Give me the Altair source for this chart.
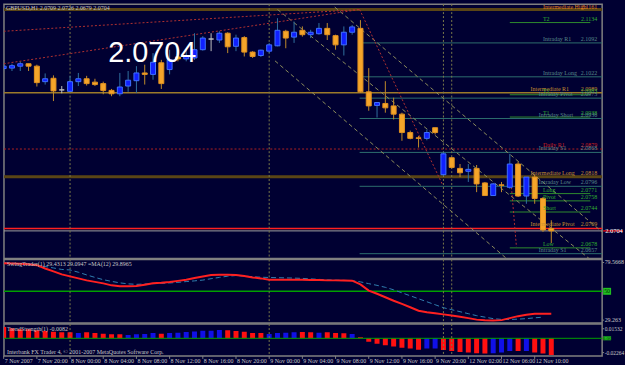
import altair as alt
import pandas as pd

BG = "#000032"
GRID = "#808080"
TXT = "#c8c8c8"
FONT = "Liberation Sans Narrow"

# ---------------- price candles (GBPUSD H1) ----------------
opens = [2.1039, 2.1040, 2.1044, 2.1049, 2.1044, 2.1012, 2.1019, 2.0995, 2.0992, 2.1012,
         2.1018, 2.1011, 2.1008, 2.0994, 2.0987, 2.1003, 2.1014, 2.1030, 2.1027, 2.1051,
         2.1037, 2.1063, 2.1059, 2.1061, 2.1078, 2.1100, 2.1098, 2.1112, 2.1085, 2.1103,
         2.1073, 2.1066, 2.1075, 2.1086, 2.1116, 2.1104, 2.1118, 2.1109, 2.1111, 2.1122,
         2.1107, 2.1088, 2.1114, 2.1122, 2.0991, 2.0963, 2.0967, 2.0962, 2.0945, 2.0907,
         2.0896, 2.0895, 2.0917, 2.0820, 2.0855, 2.0833, 2.0827, 2.0833, 2.0803, 2.0777,
         2.0799, 2.0794, 2.0842, 2.0776, 2.0815, 2.0771, 2.0709]
highs = [2.1047, 2.1049, 2.1053, 2.1049, 2.1047, 2.1029, 2.1025, 2.1003, 2.1024, 2.1030,
         2.1024, 2.1018, 2.1012, 2.0997, 2.1030, 2.1034, 2.1044, 2.1047, 2.1071, 2.1057,
         2.1078, 2.1071, 2.1078, 2.1112, 2.1106, 2.1112, 2.1116, 2.1114, 2.1109, 2.1106,
         2.1075, 2.1078, 2.1092, 2.1143, 2.1119, 2.1136, 2.1126, 2.1119, 2.1133, 2.1133,
         2.1109, 2.1126, 2.1129, 2.1139, 2.1040, 2.0969, 2.1013, 2.0979, 2.0948, 2.0911,
         2.0900, 2.0913, 2.0917, 2.0868, 2.0856, 2.0842, 2.0842, 2.0840, 2.0805, 2.0803,
         2.0805, 2.0863, 2.0847, 2.0815, 2.0820, 2.0774, 2.0726]
lows = [2.1034, 2.1034, 2.1034, 2.1034, 2.1002, 2.1006, 2.0972, 2.0988, 2.0991, 2.1003,
        2.1004, 2.1003, 2.0986, 2.0982, 2.0982, 2.0991, 2.0989, 2.1006, 2.1016, 2.0997,
        2.1027, 2.1054, 2.1054, 2.1057, 2.1076, 2.1075, 2.1092, 2.1071, 2.1075, 2.1064,
        2.1061, 2.1063, 2.1071, 2.1085, 2.1081, 2.1092, 2.1105, 2.1102, 2.1109, 2.1098,
        2.1078, 2.1066, 2.1109, 2.0989, 2.0952, 2.0938, 2.0948, 2.0934, 2.0890, 2.0893,
        2.0876, 2.0891, 2.0903, 2.0818, 2.0833, 2.0815, 2.0805, 2.0784, 2.0776, 2.0776,
        2.0784, 2.0791, 2.0774, 2.0760, 2.0760, 2.0702, 2.0679]
closes = [2.1044, 2.1045, 2.1049, 2.1044, 2.1010, 2.1018, 2.0993, 2.0995, 2.1012, 2.1018,
          2.1008, 2.1006, 2.0994, 2.0987, 2.1001, 2.1015, 2.1030, 2.1027, 2.1052, 2.1008,
          2.1057, 2.1059, 2.1064, 2.1078, 2.1102, 2.1100, 2.1112, 2.1084, 2.1102, 2.1073,
          2.1064, 2.1077, 2.1088, 2.1118, 2.1102, 2.1114, 2.1109, 2.1114, 2.1122, 2.1109,
          2.1088, 2.1114, 2.1125, 2.0991, 2.0962, 2.0969, 2.0958, 2.0945, 2.0907, 2.0895,
          2.0895, 2.0907, 2.0907, 2.0863, 2.0835, 2.0824, 2.0831, 2.0801, 2.0777, 2.0801,
          2.0798, 2.0842, 2.0776, 2.0815, 2.0771, 2.0706, 2.0704]

# time axis
time_label_bars = [0, 4, 8, 12, 16, 20, 24, 28, 32, 36, 40, 44, 48, 52, 56, 60, 64]
time_labels = ["7 Nov 2007", "7 Nov 20:00", "8 Nov 00:00", "8 Nov 04:00", "8 Nov 08:00",
               "8 Nov 12:00", "8 Nov 16:00", "8 Nov 20:00", "9 Nov 00:00", "9 Nov 04:00",
               "9 Nov 08:00", "9 Nov 12:00", "9 Nov 16:00", "9 Nov 20:00", "12 Nov 02:00",
               "12 Nov 06:00", "12 Nov 10:00"]
separator_bars = [8, 32, 53, 54]

price_ticks = [2.1145, 2.1110, 2.1075, 2.1040, 2.1005, 2.0970, 2.0935, 2.0900,
               2.0865, 2.0830, 2.0795, 2.0760, 2.0725, 2.0690, 2.0655]

# horizontal levels
lvl_names = ["Intermediate High", "T2", "Intraday  R1", "Intraday Long", "Intermediate R1",
             "T1", "Intraday Pivot", "T1", "Intraday Short", "Daily  R1", "Intraday  S1",
             "Intermediate Long", "Intraday Low", "Long", "Pivot", "Short",
             "Intermediate Pivot", "", "Low", "Intraday  S1"]
lvl_texts = ["2.1161", "2.1134", "2.1092", "2.1022", "2.0989", "2.0983", "2.0973", "2.0938",
             "2.0936", "2.0879", "2.0868", "2.0818", "2.0796", "2.0771", "2.0758", "2.0744",
             "2.0709", "", "2.0678", "2.0657"]
lvl_prices = [2.1161, 2.1134, 2.1092, 2.1022, 2.0989, 2.0985, 2.0978, 2.0939, 2.0936, 2.0873,
              2.0866, 2.0816, 2.0796, 2.0781, 2.0766, 2.0743, 2.0709, 2.0704, 2.0669, 2.0657]
lvl_start = [0.04, 61, 42.9, 42.9, 0.04, 61, 42.9, 61, 42.9, 0.04, 42.9, 0.04, 42.9, 61,
             61, 61, 0.04, 0.04, 61, 42.9]
lvl_end = [72.2, 70.7, 72.2, 72.2, 72.2, 70.7, 72.2, 70.7, 72.2, 72.2, 72.2, 72.2, 72.2,
           70.7, 70.7, 70.7, 72.2, 72.2, 70.7, 72.2]
lvl_colors = ["#5a4515", "#2e8b2e", "#2c6e6e", "#2c6e6e", "#9c7a2a", "#2e8b2e", "#2c6e6e",
              "#2e8b2e", "#2c6e6e", "#b02020", "#2c6e6e", "#5a4515", "#2c6e6e", "#2e8b2e",
              "#2e8b2e", "#2e8b2e", "#ff2020", "#a0a0a0", "#2e8b2e", "#2c6e6e"]
lvl_label_colors = ["#e08020", "#30b030", "#5a8a8a", "#5a8a8a", "#c89030", "#30b030",
                    "#5a8a8a", "#30b030", "#5a8a8a", "#d02020", "#5a8a8a", "#c89030",
                    "#5a8a8a", "#30b030", "#30b030", "#30b030", "#c89030", "#a0a0a0",
                    "#30b030", "#5a8a8a"]
lvl_style = ["thick", "thin", "thin", "thin", "mid", "thin", "thin", "thin", "thin", "dot",
             "thin", "thick", "thin", "thin", "thin", "thin", "mid", "thin", "thin", "thin"]
lvl_name_at = [65.0, 65.0, 65.0, 65.0, 63.5, 65.0, 64.5, 65.0, 64.5, 65.0, 64.5, 63.5,
               64.5, 65.0, 65.0, 65.0, 63.5, 65.0, 65.0, 64.5]

# trend lines (bar index, price)
khaki_x1 = [39.9, 32.7, 33.0]
khaki_p1 = [2.1166, 2.1055, 2.1161]
khaki_x2 = [72.4, 60.75, 70.7]
khaki_p2 = [2.0698, 2.0645, 2.0645]
red_x1 = [0.0, 0.0, 42.9, 61.2]
red_p1 = [2.1116, 2.1049, 2.1161, 2.0794]
red_x2 = [42.9, 42.9, 52.9, 61.8]
red_p2 = [2.1161, 2.1161, 2.0799, 2.0671]

# ---------------- indicator panel ----------------
swing = [78.3, 78.0, 77.7, 77.3, 76.3, 73.0, 70.0, 67.0, 65.0, 63.0,
         61.0, 59.5, 58.0, 56.0, 55.0, 55.0, 55.3, 56.7, 58.0, 58.5,
         59.3, 60.5, 61.7, 63.3, 65.0, 66.3, 66.7, 66.7, 66.5, 65.3,
         64.0, 63.0, 61.7, 61.7, 61.7, 61.7, 61.7, 61.5, 61.3, 61.0,
         61.0, 60.8, 60.7, 57.0, 50.7, 47.5, 44.0, 40.5, 37.3, 34.0,
         30.5, 29.0, 28.0, 26.8, 25.7, 24.5, 23.0, 21.5, 20.8, 20.7,
         21.0, 23.0, 25.0, 26.5, 27.3, 27.3, 27.3]
swing_ma = [79.0, 78.5, 78.0, 77.5, 76.5, 75.0, 73.5, 72.0, 71.5, 69.2,
            66.5, 64.0, 61.7, 60.0, 58.5, 57.5, 57.0, 57.3, 57.7, 58.0,
            58.4, 59.0, 59.8, 60.5, 61.3, 62.7, 64.0, 65.2, 65.9, 65.3,
            64.7, 64.2, 63.9, 63.7, 63.5, 63.3, 63.0, 62.5, 62.0, 61.5,
            61.2, 61.0, 60.7, 59.5, 57.7, 56.0, 54.0, 51.5, 48.5, 45.5,
            42.5, 39.5, 36.5, 33.5, 31.5, 29.5, 27.5, 25.5, 24.0, 22.5,
            21.7, 21.7, 22.0, 22.5, 23.3, 24.0]
ind_axis_vals = [79.0, 21.0]
ind_axis_text = ["79.5668", "29.263"]
ind_level = 50

# ---------------- histogram panel ----------------
trend = [0.0153, 0.0135, 0.0122, 0.0122, 0.0108, 0.0099, 0.0089, 0.0081, 0.0081, 0.0072,
         0.0081, 0.0072, 0.0062, 0.0054, 0.0054, 0.0045, 0.0054, 0.0058, 0.0072, 0.0062,
         0.0072, 0.0076, 0.0085, 0.0094, 0.0103, 0.0103, 0.0112, 0.0108, 0.0099, 0.0089,
         0.0072, 0.0072, 0.0058, 0.0072, 0.0076, 0.0081, 0.0085, 0.0083, 0.0076, 0.0083,
         0.0072, 0.0067, 0.0058, 0.0013, -0.0046, -0.0073, -0.0095, -0.0113, -0.0127, -0.0140,
         -0.0154, -0.0140, -0.0140, -0.0158, -0.0171, -0.0185, -0.0194, -0.0203, -0.0208, -0.0203,
         -0.0194, -0.0171, -0.0171, -0.0171, -0.0194, -0.0208, -0.0226]
trend_side = list("RRRRRRRRRBRRRRRBBBBRBBBBBBBRRRRRBBBBRRBRRRBRRRRRRRRBBRRRRRRBBBRBRRR")
hist_axis_vals = [0.0130, -0.0194]
hist_axis_text = ["0.01532", "-0.02264"]

# ---------------- build ----------------
W = 602
XDOM = [0.036, 72.13]
xs = alt.Scale(domain=XDOM, nice=False, zero=False)
HALF = 0.3  # half candle width in bar units
n = len(opens)
idx = list(range(n))

cd = pd.DataFrame({"i": idx, "o": opens, "h": highs, "l": lows, "c": closes})


def kind(o, c):
    if c > o:
        return "up"
    if c < o:
        return "down"
    return "doji"


cd["kind"] = [kind(o, c) for o, c in zip(opens, closes)]
fill_map = {"up": "#1020ff", "down": "#f5a52a", "doji": "#c0c0c0"}
stroke_map = {"up": "#4070ff", "down": "#e09020", "doji": "#c0c0c0"}
wick_map = {"up": "#2f6f9f", "down": "#c08a2a", "doji": "#c0c0c0"}
cd["fill"] = cd["kind"].map(fill_map)
cd["stroke"] = cd["kind"].map(stroke_map)
cd["wick"] = cd["kind"].map(wick_map)

PMIN, PMAX = 2.0647, 2.1172
ys = alt.Scale(domain=[PMIN, PMAX], nice=False, zero=False)

edge_calc = dict(xl="max(datum.i - %g, %g)" % (HALF, XDOM[0]), xr="datum.i + %g" % HALF)


def XQ(f):
    return alt.X(f, type="quantitative", scale=xs, axis=None)


def YQ(f, sc):
    return alt.Y(f, type="quantitative", scale=sc, axis=None)


def right_labels(vals, texts, sc, size=6.5):
    df = pd.DataFrame({"v": vals, "t": texts})
    ticks = alt.Chart(df).mark_rule(color=GRID).encode(
        x=alt.value(W), x2=alt.value(W + 2), y=YQ("v", sc))
    labs = alt.Chart(df).mark_text(align="left", baseline="middle", fontSize=size, font=FONT,
                                   color=TXT).encode(
        x=alt.value(W + 2.5), y=YQ("v", sc), text="t:N")
    return [ticks, labs]


lv = pd.DataFrame({"name": lvl_names, "txt": lvl_texts, "p": lvl_prices, "xa": lvl_start,
                   "xb": lvl_end, "col": lvl_colors, "lcol": lvl_label_colors,
                   "sty": lvl_style, "nx": lvl_name_at})

sep = pd.DataFrame({"i": separator_bars})


def sep_rule():
    return alt.Chart(sep).mark_rule(color="#7a7a4a", strokeDash=[2, 2], strokeWidth=1).encode(
        x=XQ("i"))


yaxis = alt.Axis(orient="right", values=price_ticks, format=".4f", labelColor=TXT,
                 labelFontSize=6.5, labelFont=FONT, tickColor=GRID, tickSize=2,
                 labelPadding=1, domain=False, grid=False, title="")

axis_main = alt.Chart(pd.DataFrame({"p": [2.09], "i": [10]})).mark_point(opacity=0).encode(
    x=XQ("i"), y=alt.Y("p", type="quantitative", scale=ys, axis=yaxis))


def level_layer(style, width, dash):
    ch = alt.Chart(lv[lv["sty"] == style])
    if dash:
        mk = ch.mark_rule(strokeWidth=width, strokeDash=dash, clip=True)
    else:
        mk = ch.mark_rule(strokeWidth=width, clip=True)
    return mk.encode(x=XQ("xa"), x2="xb", y=YQ("p", ys),
                     color=alt.Color("col", type="nominal", scale=None))


lines_thin = level_layer("thin", 1, None)
lines_mid = level_layer("mid", 1.5, None)
lines_thick = level_layer("thick", 3, None)
lines_dot = level_layer("dot", 1, [2, 2])


def label_layers(df, baseline, dy):
    nm = alt.Chart(df[df["name"] != ""]).mark_text(align="left", baseline=baseline, dy=dy,
                                                fontSize=6, font=FONT).encode(
        x=XQ("nx"), y=YQ("p", ys), text="name:N",
        color=alt.Color("lcol", type="nominal", scale=None))
    vl = alt.Chart(df[df["txt"] != ""]).mark_text(align="right", baseline=baseline, dy=dy,
                                               fontSize=6, font=FONT).encode(
        x=alt.value(W - 5), y=YQ("p", ys), text="txt:N",
        color=alt.Color("lcol", type="nominal", scale=None))
    return [nm, vl]


top_labels = label_layers(lv.iloc[:1], "middle", -2.2)
other_labels = label_layers(lv.iloc[1:], "bottom", -1)

kh = pd.DataFrame({"xa": khaki_x1, "pa": khaki_p1, "xb": khaki_x2, "pb": khaki_p2})
khaki = alt.Chart(kh).mark_rule(color="#8c8c5c", strokeDash=[4, 3], strokeWidth=1,
                                clip=True).encode(
    x=XQ("xa"), x2="xb", y=YQ("pa", ys), y2="pb")
rd = pd.DataFrame({"xa": red_x1, "pa": red_p1, "xb": red_x2, "pb": red_p2})
reds = alt.Chart(rd).mark_rule(color="#b03030", strokeDash=[2, 2], strokeWidth=1,
                               clip=True).encode(
    x=XQ("xa"), x2="xb", y=YQ("pa", ys), y2="pb")

wicks = alt.Chart(cd).mark_rule(strokeWidth=1, clip=True).encode(
    x=XQ("i"), y=YQ("l", ys), y2="h", color=alt.Color("wick", type="nominal", scale=None))
bodies = alt.Chart(cd).transform_calculate(**edge_calc).mark_bar(
    strokeWidth=1, clip=True).encode(
    x=XQ("xl"), x2="xr", y=YQ("o", ys), y2="c",
    fill=alt.Fill("fill", type="nominal", scale=None),
    stroke=alt.Stroke("stroke", type="nominal", scale=None))

last_price = closes[-1]
pbox = pd.DataFrame({"p": [last_price], "t": ["%.4f" % last_price],
                     "pa": [last_price + 0.00013], "pb": [last_price - 0.00013]})
price_box_bg = alt.Chart(pbox).mark_rect(color="#ff1010").encode(
    x=alt.value(W + 1), x2=alt.value(W + 21), y=YQ("pa", ys), y2="pb")
price_box = alt.Chart(pbox).mark_text(align="left", baseline="middle", fontSize=6.5, font=FONT,
                                      color="white").encode(
    x=alt.value(W + 3), y=YQ("p", ys), text="t:N")

info = pd.DataFrame({"t": ["GBPUSD,H1  2.0709 2.0726 2.0679 2.0704"]})
header = alt.Chart(info).mark_text(align="left", baseline="top", fontSize=6, font=FONT,
                                   color=TXT).encode(
    x=alt.value(2), y=alt.value(1), text="t:N")
bigtxt = alt.Chart(pbox).mark_text(align="left", baseline="alphabetic", fontSize=29,
                                   font="Liberation Sans", color="white").encode(
    x=alt.value(105), y=alt.value(58), text="t:N")

main = alt.layer(axis_main, lines_thin, lines_mid, lines_thick, lines_dot, sep_rule(), khaki,
                 reds, wicks, bodies, *top_labels, *other_labels, price_box_bg, price_box,
                 header, bigtxt).properties(width=W, height=256)

# indicator panel
ID_DOM = [18, 82]
iys = alt.Scale(domain=ID_DOM, nice=False, zero=False)
ind_df = pd.DataFrame({"i": idx, "v": swing})
ma_df = pd.DataFrame({"i": list(range(len(swing_ma))), "v": swing_ma})
lvl_df = pd.DataFrame({"v": [ind_level], "t": [str(ind_level)],
                       "va": [ind_level + 3.5], "vb": [ind_level - 3.5]})
ind_level_rule = alt.Chart(lvl_df).mark_rule(color="#00a000", strokeWidth=1.5).encode(
    y=YQ("v", iys))
ind_box = alt.Chart(lvl_df).mark_rect(color="#20c020").encode(
    x=alt.value(W + 1), x2=alt.value(W + 9), y=YQ("va", iys), y2="vb")
ind_box_t = alt.Chart(lvl_df).mark_text(fontSize=6, font=FONT, color="#003000").encode(
    x=alt.value(W + 5), y=YQ("v", iys), text="t:N")
ma_line = alt.Chart(ma_df).mark_line(color="#2f7fb0", strokeDash=[5, 3], strokeWidth=1,
                                     clip=True).encode(
    x=XQ("i"), y=YQ("v", iys))
sw_line = alt.Chart(ind_df).mark_line(color="#ff2020", strokeWidth=2, clip=True).encode(
    x=XQ("i"), y=YQ("v", iys))
ind_info = pd.DataFrame({"t": ["SwingTrader(1) 29.4313 29.0947   =MA(12) 29.8965"]})
ind_title = alt.Chart(ind_info).mark_text(align="left", baseline="top", fontSize=6, font=FONT,
                                          color=TXT).encode(
    x=alt.value(3), y=alt.value(2), text="t:N")
ind = alt.layer(ind_level_rule, sep_rule(), ma_line, sw_line, ind_box, ind_box_t, ind_title,
                *right_labels(ind_axis_vals, ind_axis_text, iys, 6)).properties(
    width=W, height=64)

# histogram panel
HDOM = [-0.0239, 0.0193]
hys = alt.Scale(domain=HDOM, nice=False, zero=False)
hist_df = pd.DataFrame({"i": idx, "v": trend, "side": trend_side})
hist_df["col"] = hist_df["side"].map({"R": "#ff1010", "B": "#1010e8"})
hist_df["zero"] = 0.0
bars = alt.Chart(hist_df).transform_calculate(**edge_calc).mark_bar(clip=True).encode(
    x=XQ("xl"), x2="xr", y=YQ("v", hys), y2="zero",
    color=alt.Color("col", type="nominal", scale=None))
zero_df = pd.DataFrame({"v": [0.0], "t": ["0.00"], "va": [0.0027], "vb": [-0.0027]})
zero_rule = alt.Chart(zero_df).mark_rule(color="#00a000", strokeWidth=1).encode(
    y=YQ("v", hys))
zero_box = alt.Chart(zero_df).mark_rect(color="#20c020").encode(
    x=alt.value(W + 1), x2=alt.value(W + 9), y=YQ("va", hys), y2="vb")
zero_t = alt.Chart(zero_df).mark_text(fontSize=5, font=FONT, color="#003000").encode(
    x=alt.value(W + 5), y=YQ("v", hys), text="t:N")
hist_info = pd.DataFrame({"t": ["TrendStrength(1) -0.0082"],
                          "c": ["Interbank FX Trader 4, \u00a9 2001-2007 MetaQuotes Software Corp."]})
hist_title = alt.Chart(hist_info).mark_text(align="left", baseline="top", fontSize=6, font=FONT,
                                            color=TXT).encode(
    x=alt.value(3), y=alt.value(2), text="t:N")
copyright_t = alt.Chart(hist_info).mark_text(align="left", baseline="bottom", fontSize=6,
                                             font=FONT, color=TXT).encode(
    x=alt.value(3), y=alt.value(31), text="c:N")
tl = pd.DataFrame({"i": time_label_bars, "t": time_labels})
time_ticks = alt.Chart(tl).mark_rule(color=GRID).encode(
    x=XQ("i"), y=alt.value(32), y2=alt.value(35))
time_text = alt.Chart(tl).mark_text(align="left", baseline="middle", dx=1, fontSize=6,
                                    font=FONT, color=TXT).encode(
    x=XQ("i"), y=alt.value(37.5), text="t:N")
hist = alt.layer(bars, zero_rule, sep_rule(), zero_box, zero_t, hist_title, copyright_t,
                 time_ticks, time_text,
                 *right_labels(hist_axis_vals, hist_axis_text, hys, 5.5)).properties(
    width=W, height=32)

chart = alt.vconcat(main, ind, hist, spacing=1, bounds="flush").properties(
    padding={"left": 2, "top": 1, "right": 0, "bottom": 0}
).configure(background=BG).configure_view(stroke=GRID, strokeWidth=1.5, fill=BG)

chart.save("out.html", embed_options={"renderer": "svg", "actions": False})
